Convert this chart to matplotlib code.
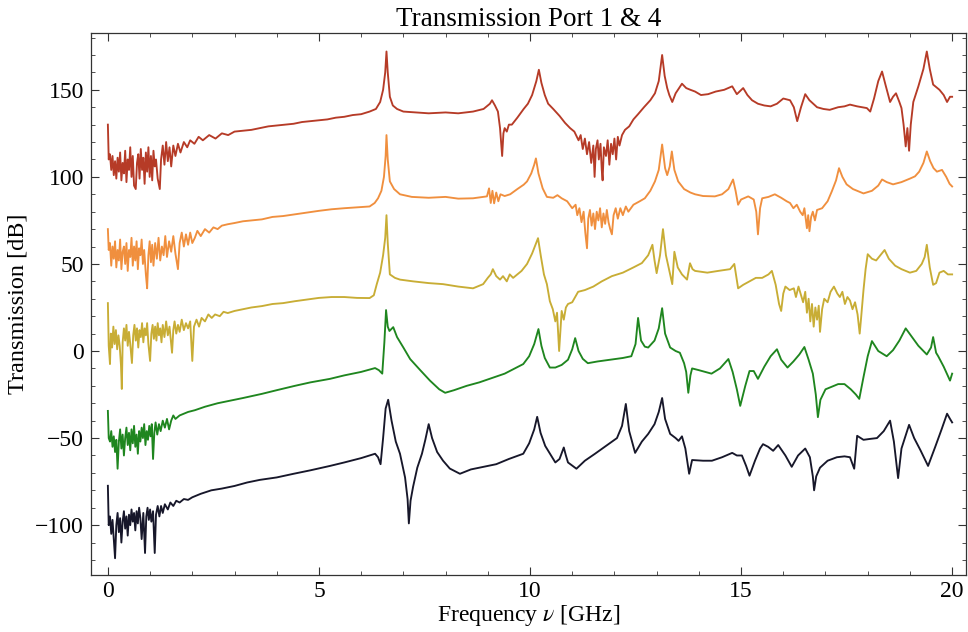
import numpy as np
import matplotlib.pyplot as plt
from matplotlib.ticker import MultipleLocator

# traces: (frequency GHz, transmission dB)
red_pts = [
    (0.00, 130), (0.02, 110), (0.05, 113), (0.08, 104), (0.11, 112), (0.14, 101), (0.17, 109), (0.20, 99),
    (0.23, 111), (0.26, 103), (0.29, 114), (0.32, 98), (0.35, 108), (0.38, 102), (0.41, 115), (0.44, 97),
    (0.47, 110), (0.50, 104), (0.53, 117), (0.56, 100), (0.59, 112), (0.62, 95), (0.66, 93), (0.69, 108),
    (0.72, 113), (0.75, 99), (0.78, 116), (0.81, 104), (0.84, 111), (0.87, 96), (0.90, 114), (0.93, 103),
    (0.96, 117), (0.99, 100), (1.02, 112), (1.05, 98), (1.08, 115), (1.11, 106), (1.14, 110), (1.18, 99),
    (1.23, 93), (1.26, 110), (1.30, 118), (1.34, 107), (1.38, 120), (1.42, 109), (1.46, 117), (1.50, 106),
    (1.55, 118), (1.60, 112), (1.66, 119), (1.72, 114), (1.80, 120), (1.88, 117), (1.95, 121), (2.05, 119),
    (2.15, 123), (2.25, 121), (2.4, 124), (2.55, 122), (2.7, 125), (2.85, 124), (3.0, 126), (3.2, 126.5),
    (3.4, 127), (3.6, 128), (3.8, 129), (4.0, 129.5), (4.2, 130), (4.4, 130.5), (4.6, 131.5), (4.8, 132),
    (5.0, 132.5), (5.2, 133), (5.4, 134), (5.6, 134.5), (5.8, 135.5), (6.0, 136), (6.2, 137.5), (6.35, 139),
    (6.45, 143), (6.52, 150), (6.57, 160), (6.6, 172), (6.63, 160), (6.68, 146), (6.75, 141), (6.85, 139),
    (7.0, 137.5), (7.3, 137), (7.6, 136.5), (8.0, 137), (8.3, 136.5), (8.65, 137.5), (8.9, 139), (9.05, 142),
    (9.1, 144), (9.17, 141), (9.24, 137.5), (9.29, 128), (9.34, 112), (9.37, 125), (9.4, 128), (9.45, 126),
    (9.5, 130), (9.57, 130), (9.7, 134), (9.85, 139), (9.95, 142), (10.05, 147), (10.15, 155), (10.21, 161.5),
    (10.27, 154), (10.35, 147), (10.43, 142), (10.55, 139), (10.7, 135), (10.83, 131), (10.95, 128),
    (11.05, 126), (11.15, 121), (11.2, 124), (11.25, 116), (11.3, 122), (11.35, 113), (11.4, 120),
    (11.45, 108), (11.5, 118), (11.53, 100), (11.56, 116), (11.6, 121), (11.63, 110), (11.67, 119),
    (11.7, 104), (11.72, 98), (11.75, 117), (11.8, 112), (11.84, 121), (11.88, 107), (11.92, 119),
    (11.96, 113), (12.0, 122), (12.04, 110), (12.08, 123), (12.12, 118), (12.18, 124), (12.25, 127),
    (12.35, 129), (12.45, 133), (12.56, 136), (12.7, 140), (12.85, 144), (12.96, 148), (13.05, 155),
    (13.13, 170), (13.19, 158), (13.25, 151), (13.3, 147), (13.37, 143), (13.45, 148), (13.6, 153.5),
    (13.7, 151), (13.8, 150), (13.91, 149), (14.05, 147), (14.22, 147.5), (14.4, 149), (14.6, 150),
    (14.79, 152), (14.9, 147.5), (15.05, 151), (15.15, 147), (15.26, 144), (15.4, 142), (15.55, 141),
    (15.7, 140.5), (15.85, 142), (16.0, 145), (16.16, 144), (16.25, 140), (16.33, 132), (16.42, 140),
    (16.52, 147.5), (16.62, 144), (16.8, 140), (16.95, 139), (17.1, 138.5), (17.3, 140), (17.45, 140.5),
    (17.58, 141.5), (17.75, 140.5), (17.98, 139.5), (18.06, 137.5), (18.15, 145), (18.25, 155),
    (18.34, 160.5), (18.42, 153), (18.53, 143), (18.6, 146), (18.67, 148), (18.75, 143), (18.8, 139.5),
    (18.85, 130), (18.9, 117.5), (18.94, 128), (18.98, 115), (19.02, 130), (19.08, 143), (19.2, 152),
    (19.32, 162), (19.4, 172), (19.47, 162), (19.55, 153), (19.7, 150), (19.8, 147), (19.88, 143),
    (19.95, 146), (20.0, 146),
]

orange_pts = [
    (0.00, 70), (0.02, 58), (0.05, 62), (0.08, 49), (0.11, 60), (0.14, 53), (0.17, 63), (0.20, 48),
    (0.23, 58), (0.26, 52), (0.29, 64), (0.32, 47), (0.35, 57), (0.38, 60), (0.41, 50), (0.44, 62),
    (0.47, 46), (0.50, 58), (0.53, 54), (0.56, 65), (0.59, 49), (0.62, 60), (0.65, 52), (0.68, 63),
    (0.71, 47), (0.74, 59), (0.77, 55), (0.80, 64), (0.83, 50), (0.86, 58), (0.90, 44), (0.93, 36),
    (0.96, 55), (0.99, 63), (1.02, 51), (1.05, 61), (1.08, 49), (1.12, 62), (1.16, 53), (1.20, 65),
    (1.24, 52), (1.28, 60), (1.32, 55), (1.36, 66), (1.40, 54), (1.45, 63), (1.50, 57), (1.55, 66),
    (1.60, 56), (1.66, 47), (1.70, 62), (1.75, 68), (1.80, 60), (1.85, 67), (1.90, 61), (1.95, 68),
    (2.00, 62), (2.06, 65), (2.12, 69), (2.2, 66), (2.3, 70), (2.4, 68), (2.5, 71), (2.6, 70), (2.7, 72),
    (2.84, 72.8), (3.0, 73.5), (3.2, 74.5), (3.4, 75), (3.65, 75.6), (3.9, 77), (4.15, 77.5), (4.43, 78.5),
    (4.7, 79.5), (5.0, 80.5), (5.3, 81.4), (5.6, 82), (5.9, 82.5), (6.2, 83), (6.32, 85), (6.4, 87.7),
    (6.48, 92), (6.54, 100), (6.58, 112), (6.6, 124), (6.63, 110), (6.68, 97.4), (6.78, 93), (6.92, 90),
    (7.2, 88.5), (7.6, 88), (8.0, 88.5), (8.3, 87.5), (8.65, 87.7), (8.98, 88.8), (9.03, 93.4), (9.07, 85),
    (9.11, 92), (9.15, 84.8), (9.2, 91), (9.25, 86), (9.3, 90), (9.4, 89), (9.53, 90), (9.7, 93),
    (9.85, 95.5), (9.93, 97.4), (10.03, 102), (10.1, 107), (10.14, 110.6), (10.2, 102), (10.3, 93.4),
    (10.4, 88.5), (10.55, 88), (10.65, 89.5), (10.75, 87.7), (10.88, 86), (11.0, 82), (11.08, 84),
    (11.12, 78), (11.17, 82), (11.22, 74), (11.27, 80), (11.31, 68), (11.35, 59), (11.38, 76), (11.42, 81),
    (11.46, 72), (11.5, 79), (11.54, 70), (11.58, 80), (11.62, 75), (11.66, 82), (11.7, 71), (11.74, 79),
    (11.78, 73), (11.82, 81), (11.86, 74), (11.9, 70), (11.94, 67), (11.98, 78), (12.03, 82), (12.08, 76),
    (12.14, 82), (12.2, 78), (12.27, 83), (12.33, 80), (12.45, 84), (12.6, 86), (12.72, 87.7), (12.85, 92),
    (12.96, 97.4), (13.05, 104), (13.13, 118.6), (13.2, 105), (13.25, 101), (13.31, 106), (13.36, 114.6),
    (13.42, 104), (13.51, 97.4), (13.65, 93), (13.8, 91), (13.91, 90), (14.1, 89), (14.38, 88.8),
    (14.55, 90), (14.7, 93), (14.81, 98.5), (14.87, 92), (14.93, 84), (15.0, 87), (15.17, 88.8), (15.3, 87),
    (15.36, 80), (15.4, 67), (15.45, 82), (15.5, 87.7), (15.65, 88.5), (15.8, 90), (15.95, 88), (16.08, 86),
    (16.16, 85), (16.24, 82), (16.32, 84), (16.4, 80), (16.46, 78), (16.5, 82), (16.56, 70.5), (16.59, 78),
    (16.62, 68.8), (16.66, 77), (16.7, 80), (16.75, 75), (16.8, 81), (16.92, 82), (17.05, 86), (17.15, 91.7),
    (17.25, 98), (17.32, 105), (17.4, 100), (17.5, 95.7), (17.65, 93), (17.9, 90.5), (18.1, 92), (18.25, 95),
    (18.34, 98.5), (18.45, 97), (18.6, 95.7), (18.8, 97), (19.0, 99), (19.12, 100.3), (19.22, 103),
    (19.32, 108), (19.4, 114.6), (19.48, 109), (19.56, 105), (19.64, 103), (19.76, 104), (19.86, 100),
    (19.94, 96), (20.0, 94.5),
]

yellow_pts = [
    (0.00, 27.5), (0.02, 3), (0.05, -7.5), (0.07, 10), (0.10, 2), (0.13, 14), (0.16, 4), (0.19, 12),
    (0.22, 1), (0.25, 9), (0.28, 3), (0.31, -8), (0.33, -21.8), (0.35, 5), (0.38, 13), (0.41, 6), (0.44, 15),
    (0.47, 3), (0.50, 11), (0.53, 4), (0.57, -6.9), (0.60, 9), (0.63, 15), (0.66, 6), (0.69, 13), (0.72, 2),
    (0.75, 12), (0.78, 8), (0.81, 16), (0.84, 5), (0.87, 13), (0.90, 9), (0.93, 16), (0.96, 4), (1.00, -5.7),
    (1.03, 10), (1.06, 15), (1.09, 7), (1.12, 14), (1.15, 6), (1.18, 16), (1.21, 9), (1.24, 13), (1.27, 5),
    (1.30, 15), (1.34, 8), (1.38, 17), (1.42, 9), (1.46, 14), (1.52, -1), (1.55, 12), (1.58, 17), (1.62, 10),
    (1.66, 15), (1.70, 11), (1.75, 18), (1.80, 12), (1.85, 16), (1.90, 13), (1.95, 17), (2.00, -5.7),
    (2.04, 14), (2.1, 18), (2.16, 14), (2.22, 19), (2.3, 17), (2.38, 21), (2.46, 19), (2.54, 21), (2.65, 20),
    (2.74, 22.5), (2.84, 21.8), (3.0, 23), (3.2, 24), (3.4, 25), (3.65, 25.8), (3.9, 27), (4.15, 27.5),
    (4.43, 28.6), (4.7, 29.5), (5.0, 30.5), (5.3, 31), (5.6, 31), (5.9, 30.5), (6.2, 30.4), (6.3, 32),
    (6.37, 38.4), (6.45, 45), (6.52, 55), (6.57, 65), (6.6, 78), (6.63, 62), (6.68, 44), (6.8, 42),
    (6.92, 41), (7.23, 40), (7.6, 39), (7.94, 38.4), (8.3, 37), (8.65, 36), (8.89, 38.4), (9.0, 42),
    (9.07, 44), (9.12, 47), (9.2, 43), (9.29, 41), (9.36, 43), (9.45, 40), (9.52, 44), (9.6, 42), (9.7, 44),
    (9.8, 46), (9.93, 50), (10.05, 56), (10.13, 61), (10.19, 64.8), (10.26, 54), (10.33, 44), (10.4, 38.4),
    (10.47, 28.6), (10.54, 24), (10.6, 17), (10.64, 22), (10.69, 0), (10.72, 12), (10.75, 23), (10.8, 18),
    (10.85, 25), (10.9, 27), (11.0, 28), (11.14, 34), (11.3, 35), (11.5, 37), (11.7, 40), (11.94, 43),
    (12.2, 45), (12.45, 48), (12.65, 50.5), (12.8, 55), (12.9, 61), (12.95, 52), (13.0, 44.7), (13.08, 55),
    (13.15, 70), (13.22, 55), (13.3, 46), (13.37, 38.4), (13.42, 57), (13.5, 48), (13.6, 44), (13.72, 41),
    (13.79, 50.4), (13.85, 47), (13.91, 46), (14.2, 45), (14.46, 46), (14.74, 47), (14.84, 50), (14.93, 36),
    (15.05, 38), (15.2, 40), (15.35, 42), (15.5, 42), (15.65, 44), (15.73, 46), (15.82, 38), (15.9, 27),
    (15.95, 23), (16.0, 33), (16.05, 37), (16.15, 35), (16.25, 36), (16.3, 31), (16.36, 37), (16.42, 32),
    (16.47, 28), (16.52, 34), (16.56, 22), (16.6, 30), (16.64, 17), (16.68, 27), (16.72, 14), (16.76, 25),
    (16.8, 18), (16.84, 26), (16.87, 11), (16.92, 24), (16.97, 30), (17.05, 28), (17.12, 34), (17.2, 37),
    (17.28, 33), (17.34, 31), (17.4, 34), (17.46, 27), (17.52, 31), (17.58, 29), (17.64, 24), (17.7, 28),
    (17.76, 21), (17.81, 10), (17.84, 18), (17.9, 35), (17.95, 47), (18.0, 55.6), (18.1, 53), (18.2, 52),
    (18.3, 55), (18.4, 58), (18.5, 53), (18.65, 49), (18.8, 47), (19.0, 45), (19.15, 46), (19.28, 50),
    (19.35, 54), (19.4, 61), (19.47, 48), (19.55, 38), (19.62, 39), (19.7, 45), (19.8, 46), (19.9, 44),
    (20.0, 44),
]

green_pts = [
    (0.00, -34.4), (0.02, -50), (0.05, -52), (0.08, -46), (0.11, -55), (0.14, -49), (0.17, -58), (0.20, -51),
    (0.23, -67.6), (0.26, -52), (0.29, -45), (0.32, -56), (0.35, -48), (0.38, -60), (0.41, -50), (0.44, -44),
    (0.47, -54), (0.50, -47), (0.53, -57), (0.56, -45), (0.59, -53), (0.62, -43), (0.65, -55), (0.68, -48),
    (0.71, -59), (0.74, -46), (0.77, -52), (0.80, -44), (0.83, -50), (0.86, -42), (0.89, -54), (0.92, -46),
    (0.95, -51), (0.98, -43), (1.01, -49), (1.04, -42), (1.07, -62), (1.10, -47), (1.13, -41), (1.17, -48),
    (1.21, -42), (1.25, -46), (1.30, -40), (1.35, -44), (1.40, -39), (1.45, -45), (1.50, -40), (1.55, -37),
    (1.60, -39), (1.7, -37), (1.8, -36), (1.9, -35), (2.06, -34), (2.3, -32), (2.6, -30), (2.9, -28.5),
    (3.2, -27), (3.65, -24.6), (4.0, -22.5), (4.43, -20), (4.8, -18), (5.26, -16), (5.6, -14), (6.0, -12),
    (6.33, -9.8), (6.42, -11), (6.5, -13), (6.55, 5), (6.59, 23.5), (6.63, 14), (6.67, 11.5), (6.76, 13.7),
    (6.85, 8), (7.0, 2), (7.16, -4.6), (7.4, -11), (7.63, -17), (7.85, -22), (7.99, -24), (8.2, -22.5),
    (8.5, -20), (8.8, -18), (9.1, -15.5), (9.4, -13), (9.6, -10.5), (9.84, -7.5), (9.98, -3), (10.1, 4),
    (10.2, 12.6), (10.27, 3), (10.35, -4), (10.47, -9.5), (10.6, -9.5), (10.75, -8), (10.9, -5), (11.0, 1),
    (11.07, 7.4), (11.15, 0), (11.25, -4.5), (11.37, -7), (11.6, -6), (11.9, -5), (12.2, -4), (12.4, -3),
    (12.5, 4), (12.56, 19), (12.63, 6), (12.72, 2.5), (12.8, 2), (12.95, 6), (13.05, 13), (13.13, 24.6),
    (13.2, 10), (13.32, 2), (13.45, 0), (13.55, -1), (13.65, -7), (13.7, -12), (13.75, -24), (13.8, -14),
    (13.84, -10), (14.0, -11), (14.3, -13), (14.5, -10), (14.7, -4.6), (14.8, -12), (14.9, -22),
    (14.98, -31.5), (15.1, -20), (15.2, -11.5), (15.3, -11.5), (15.4, -16), (15.55, -9), (15.7, -3),
    (15.85, 1), (15.95, -5), (16.1, -9.5), (16.24, -6), (16.38, -2), (16.5, 2.3), (16.6, -5), (16.7, -13),
    (16.77, -25), (16.82, -38), (16.88, -28), (17.0, -22), (17.15, -20.5), (17.3, -19), (17.45, -19),
    (17.6, -22), (17.72, -25), (17.8, -27.5), (17.9, -15), (18.0, -3), (18.1, 5.7), (18.25, 0), (18.45, -3),
    (18.6, 0.5), (18.75, 6), (18.9, 13), (19.05, 8), (19.2, 3), (19.4, -2), (19.5, 2), (19.55, 8),
    (19.62, -1), (19.67, -3), (19.8, -9), (19.95, -17), (20.0, -13),
]

black_pts = [
    (0.00, -77.4), (0.02, -100), (0.05, -95), (0.08, -105), (0.11, -97), (0.14, -108), (0.17, -119),
    (0.20, -100), (0.23, -93), (0.26, -104), (0.29, -96), (0.32, -110), (0.35, -98), (0.38, -92),
    (0.41, -102), (0.44, -95), (0.47, -106), (0.50, -94), (0.53, -100), (0.56, -91), (0.59, -98),
    (0.62, -93), (0.65, -103), (0.68, -92), (0.71, -99), (0.74, -90), (0.77, -96), (0.80, -108),
    (0.84, -93), (0.88, -116), (0.91, -95), (0.94, -90), (0.97, -97), (1.00, -91), (1.03, -98),
    (1.07, -92), (1.11, -116), (1.14, -94), (1.18, -89), (1.22, -95), (1.26, -89), (1.30, -93),
    (1.35, -88), (1.42, -91), (1.48, -87), (1.55, -89), (1.62, -86), (1.7, -87), (1.8, -85), (1.9, -85.5),
    (2.0, -84), (2.2, -82), (2.45, -80), (2.7, -79), (3.0, -77.5), (3.3, -75.5), (3.6, -74), (4.0, -72.6),
    (4.4, -70.5), (4.8, -68.5), (5.26, -66), (5.6, -64), (6.0, -61.5), (6.33, -59), (6.4, -61),
    (6.46, -65), (6.52, -50), (6.58, -33), (6.64, -28), (6.72, -40), (6.82, -52), (6.92, -59),
    (7.04, -72.6), (7.1, -85), (7.13, -99), (7.17, -86), (7.23, -78), (7.33, -67), (7.44, -59),
    (7.52, -51), (7.6, -42), (7.68, -50), (7.8, -58), (7.94, -63), (8.1, -67.5), (8.34, -70.5),
    (8.6, -68), (8.9, -66.5), (9.2, -65), (9.5, -62), (9.84, -59), (9.98, -53), (10.1, -45),
    (10.17, -37.8), (10.25, -47), (10.36, -54.5), (10.6, -64), (10.7, -62), (10.8, -55.4), (10.85, -60),
    (10.9, -64), (11.1, -67.6), (11.3, -63), (11.54, -59), (11.8, -54.5), (12.06, -50), (12.18, -43),
    (12.27, -30.4), (12.35, -46), (12.49, -58.5), (12.65, -52), (12.8, -47.6), (12.95, -42), (13.05, -35),
    (13.13, -27), (13.2, -39), (13.32, -47.6), (13.45, -50), (13.52, -51.6), (13.6, -49), (13.68, -56),
    (13.77, -70.5), (13.84, -62.6), (14.1, -63), (14.31, -63), (14.55, -61), (14.79, -58.5), (14.9, -60),
    (15.02, -60), (15.12, -66), (15.2, -71.6), (15.33, -63), (15.45, -56), (15.52, -53.5), (15.64, -55),
    (15.76, -57.3), (15.88, -54), (16.05, -60), (16.2, -66.5), (16.35, -60), (16.52, -56), (16.63, -61),
    (16.7, -72), (16.73, -80), (16.78, -72), (16.87, -67), (17.05, -63), (17.27, -61), (17.45, -60.5),
    (17.58, -61), (17.68, -67.6), (17.75, -48.7), (17.9, -51), (18.05, -50.5), (18.22, -50), (18.38, -46),
    (18.53, -40), (18.62, -52), (18.72, -73), (18.8, -56), (18.98, -42.4), (19.1, -50), (19.25, -57),
    (19.43, -66), (19.6, -55), (19.75, -45), (19.88, -36), (19.95, -39), (20.0, -41),
]

traces = [
    (red_pts, '#b63b27'),
    (orange_pts, '#f08f3e'),
    (yellow_pts, '#c8ad35'),
    (green_pts, '#1f861f'),
    (black_pts, '#17172a'),
]

plt.rcParams['font.family'] = ['Liberation Serif', 'DejaVu Serif']
plt.rcParams['mathtext.fontset'] = 'stix'

fig = plt.figure(figsize=(9.68, 6.32), dpi=100)
ax = fig.add_axes([0.094, 0.090, 0.904, 0.858])

for pts, color in traces:
    arr = np.array(pts)
    ax.plot(arr[:, 0], arr[:, 1], color=color, linewidth=1.35)

ax.set_xlim(-0.4, 20.33)
ax.set_ylim(-128.7, 182.7)

ax.xaxis.set_major_locator(MultipleLocator(5))
ax.xaxis.set_minor_locator(MultipleLocator(1))
ax.yaxis.set_major_locator(MultipleLocator(50))
ax.yaxis.set_minor_locator(MultipleLocator(10))
ax.tick_params(which='both', direction='in', top=True, right=True, labelsize=17, colors='#333333')
ax.tick_params(which='major', length=6, width=0.8)
ax.tick_params(which='minor', length=3, width=0.6)
ax.tick_params(axis='x', labelcolor='black', pad=4)
ax.tick_params(axis='y', labelcolor='black', pad=5)
for sp in ax.spines.values():
    sp.set_color('#333333')
    sp.set_linewidth(0.9)

ax.set_title('Transmission Port 1 & 4', fontsize=19.5, pad=5)
ax.set_xlabel(r'Frequency $\nu$ [GHz]', fontsize=17, labelpad=1)
ax.set_ylabel('Transmission [dB]', fontsize=17.5, labelpad=5)

fig.savefig('out.png', dpi=100)
